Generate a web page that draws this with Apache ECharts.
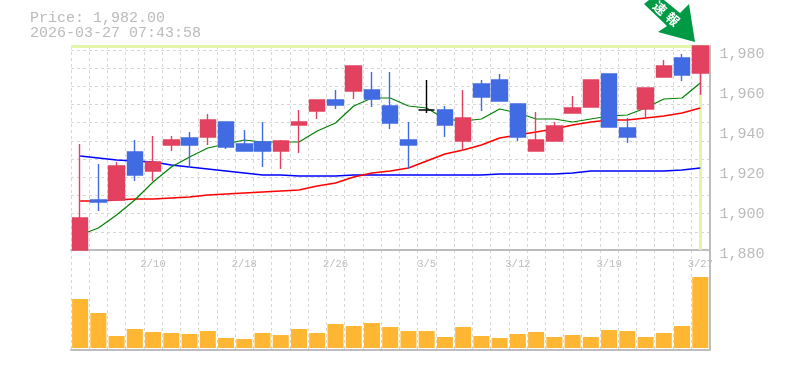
<!DOCTYPE html>
<html><head><meta charset="utf-8">
<style>html,body{margin:0;padding:0;background:#fff}#c{width:785px;height:370px}</style>
<script src="https://cdn.jsdelivr.net/npm/echarts@6/dist/echarts.min.js"></script>
</head><body><div id="c"></div>
<script>
const categories = ['2/4','2/5','2/6','2/9','2/10','2/12','2/13','2/16','2/17','2/18','2/19','2/20','2/24','2/25','2/26','2/27','3/2','3/3','3/4','3/5','3/6','3/9','3/10','3/11','3/12','3/13','3/16','3/17','3/18','3/19','3/23','3/24','3/25','3/26','3/27'];
const tickLabels = ['2/10','2/18','2/26','3/5','3/12','3/19','3/27'];
const priceTicks = {min:1880,max:1982,step:20};
const opens  = [1880,1905,1905,1929,1919.5,1932.5,1936,1936.5,1944,1933,1934,1929.5,1942.5,1949.5,1955,1959.5,1960,1952,1935,1950,1950,1934.5,1963,1965,1953,1929.5,1934.5,1948.5,1951.5,1968,1941,1950.5,1966.5,1976,1968.5];
const closes = [1896,1904,1922,1917.5,1924,1935,1932.5,1945,1931.5,1929.5,1929.5,1934.5,1944,1955,1952.5,1972,1955.5,1943.5,1932.5,1950,1942.5,1946,1956.5,1954.5,1936.5,1935,1942,1951,1965,1941.5,1936.5,1961,1972,1967.5,1982];
const lows   = [1880,1899.5,1905,1914.5,1914.5,1929.5,1921,1932.5,1930.5,1929.5,1921.5,1920.5,1928.5,1945.5,1950.5,1955.5,1951.5,1940.5,1920.5,1948.5,1936.5,1929.5,1949.5,1954.5,1934.5,1929.5,1934.5,1948.5,1951.5,1941.5,1933.5,1945.5,1966.5,1964.5,1957.5];
const highs  = [1933,1923,1924,1935,1937,1937,1939,1948,1944,1940,1944,1935,1950,1955,1960,1972,1969,1969,1944,1965,1952,1960,1965,1968,1953,1949,1944,1957,1965,1968,1946,1961,1975,1978,1982];
const ma5    = [1887.5,1891,1897.5,1905,1914,1921.5,1926.5,1931,1933,1935,1934,1934,1934,1939.5,1943.5,1952,1956,1956,1952,1951,1945.5,1944.5,1945.5,1950.5,1948.5,1945.5,1945.5,1944,1945.5,1947,1947.5,1951,1955.5,1956,1963.5];
const ma25   = [1904.5,1904.5,1905,1905.5,1905.5,1906,1906.5,1907.5,1908,1908.5,1909,1909.5,1910,1912,1913.5,1916.5,1918.5,1919.5,1921,1924.5,1928,1930,1932.5,1936,1937.5,1939,1940.5,1942.5,1944,1945,1945,1946,1947,1948.5,1951];
const ma75   = [1927,1926,1925,1924.5,1924,1922.5,1921.5,1920.5,1919.5,1918.5,1917.5,1917.5,1917,1917,1917,1917.5,1917.5,1917.5,1917.5,1917.5,1917.5,1917.5,1917.5,1918,1918,1918,1918,1918.5,1919.5,1919.5,1919.5,1919.5,1919.5,1920,1921];
const volumes = [49,35,12,19,16,15,14,17,10,9,15,13,19,15,24,22,25,21,17,17,11,21,12,10,14,16,11,13,11,18,17,11,15,22,71];
const lastPrice = 1982;
const lastDate = '3/27';
const headerText = 'Price: 1,982.00\n2026-03-27 07:43:58';
const badgeText = '速報';

const MONO = '"Liberation Mono", monospace';
const GRID = '#d6d6d6', AXIS = '#bdbdbd', TXT = '#bbbbbb';
const UP = '#E2425F', DOWN = '#416BE3', HILITE = '#E2F5A8';

const candles = categories.map((c,i)=>{
  const v=[opens[i],closes[i],lows[i],highs[i]];
  return opens[i]===closes[i] ? {value:v,itemStyle:{borderColorDoji:'#000',borderColor:'#000',borderColor0:'#000',color:'#000',color0:'#000'}} : v;
});
const split = {show:true,interval:0,lineStyle:{color:GRID,type:[3,3],width:1}};
const chart = echarts.init(document.getElementById('c'),null,{renderer:'canvas'});
chart.setOption({
  animation:false,
  backgroundColor:'#fff',
  title:{text:headerText,left:30,top:11,padding:0,textStyle:{fontFamily:MONO,fontSize:15,fontWeight:'normal',color:TXT,lineHeight:15}},
  grid:[
    {left:71,top:46,width:638.4,height:204},
    {left:71,top:250,width:638.4,height:100}
  ],
  xAxis:[
    {type:'category',gridIndex:0,data:categories,boundaryGap:true,
     axisLine:{show:true,onZero:false,lineStyle:{color:AXIS,width:2}},axisTick:{show:false},
     axisLabel:{interval:(i,v)=>tickLabels.includes(v),hideOverlap:false,margin:9,fontFamily:MONO,fontSize:10.5,color:TXT},
     splitLine:split},
    {type:'category',gridIndex:1,data:categories,boundaryGap:true,
     axisLine:{show:true,onZero:false,lineStyle:{color:AXIS,width:2}},axisTick:{show:false},axisLabel:{show:false},
     splitLine:split}
  ],
  yAxis:[
    {type:'value',gridIndex:0,position:'right',min:priceTicks.min,max:priceTicks.max,interval:priceTicks.step,
     axisLine:{show:true,lineStyle:{color:AXIS,width:2}},axisTick:{show:false},splitLine:{show:false},
     axisLabel:{showMaxLabel:false,margin:10,fontFamily:MONO,fontSize:15,color:TXT,lineHeight:8,
       formatter:v=>'\n'+v.toLocaleString('en-US')}},
    {type:'value',gridIndex:0,position:'left',min:0,max:11.22,interval:1,
     axisLine:{show:false},axisTick:{show:false},axisLabel:{show:false},
     splitLine:{show:true,lineStyle:{color:GRID,type:[3,3],width:1}}},
    {type:'value',gridIndex:1,position:'right',min:-2,max:98,
     axisLine:{show:true,lineStyle:{color:AXIS,width:2}},axisTick:{show:false},axisLabel:{show:false},splitLine:{show:false}}
  ],
  series:[
    {type:'line',name:'MA75',data:ma75,xAxisIndex:0,yAxisIndex:0,symbol:'none',z:3,lineStyle:{color:'#0000ff',width:1.5},
     markLine:{silent:true,z:1,symbol:'none',label:{show:false},lineStyle:{color:HILITE,width:3,type:'solid'},
       data:[{yAxis:lastPrice},{xAxis:lastDate}]}},
    {type:'line',name:'MA25',data:ma25,xAxisIndex:0,yAxisIndex:0,symbol:'none',z:3,lineStyle:{color:'#ff0000',width:1.5}},
    {type:'line',name:'MA5',data:ma5,xAxisIndex:0,yAxisIndex:0,symbol:'none',z:3,lineStyle:{color:'#008000',width:1.2}},
    {type:'candlestick',name:'Price',data:candles,xAxisIndex:0,yAxisIndex:0,barWidth:16,z:4,
     itemStyle:{color:UP,color0:DOWN,borderColor:UP,borderColor0:DOWN,borderWidth:1.4}},
    {type:'bar',name:'Volume',data:volumes,xAxisIndex:1,yAxisIndex:2,barWidth:16,z:4,itemStyle:{color:'#FFB733'}}
  ],
  graphic:[
    {type:'polygon',z:100,silent:true,shape:{points:[[644,4],[649,0],[664,0],[680,13],[689,4],[695,42],[658,32],[667,26]]},style:{fill:'#009944'}},
    {type:'text',z:101,silent:true,x:660,y:8,rotation:-0.72,
     style:{text:badgeText[0],fill:'#fff',fontSize:13,fontWeight:'bold',fontFamily:'"Noto Sans CJK JP"',align:'center',verticalAlign:'middle'}},
    {type:'text',z:101,silent:true,x:673,y:19,rotation:-0.72,
     style:{text:badgeText[1],fill:'#fff',fontSize:13,fontWeight:'bold',fontFamily:'"Noto Sans CJK JP"',align:'center',verticalAlign:'middle'}}
  ]
});
</script></body></html>
